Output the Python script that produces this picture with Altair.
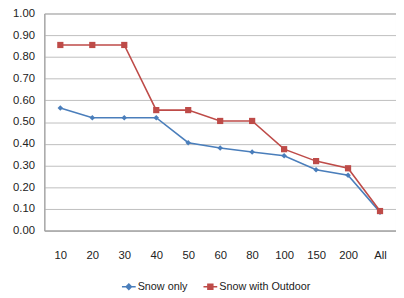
import altair as alt
import pandas as pd

categories = ["10", "20", "30", "40", "50", "60", "80", "100", "150", "200", "All"]
snow_only = [0.565, 0.52, 0.52, 0.52, 0.405, 0.38, 0.362, 0.345, 0.28, 0.255, 0.085]
snow_outdoor = [0.855, 0.855, 0.855, 0.555, 0.555, 0.505, 0.505, 0.375, 0.32, 0.287, 0.09]
series = ["Snow only", "Snow with Outdoor"]
y_ticks = [0.0, 0.1, 0.2, 0.3, 0.4, 0.5, 0.6, 0.7, 0.8, 0.9, 1.0]

rows = []
for c, a, b in zip(categories, snow_only, snow_outdoor):
    rows.append({"cat": c, "value": a, "series": series[0]})
    rows.append({"cat": c, "value": b, "series": series[1]})
df = pd.DataFrame(rows)

FONT = "Liberation Sans Narrow, Arial Narrow, Liberation Sans, sans-serif"
colors = ["#4A7EBB", "#BE4B48"]

diamond_line = "M-1,0L1,0M0,-0.38L0.38,0L0,0.38L-0.38,0Z"
square_line = "M-1,0L1,0M-0.36,-0.36L0.36,-0.36L0.36,0.36L-0.36,0.36Z"

x = alt.X("cat:N", sort=categories, title=None,
          scale=alt.Scale(type="point", padding=0.5),
          axis=alt.Axis(labelAngle=0, ticks=False, labelPadding=19, domainColor="#A0A0A0",
                        grid=False))
y = alt.Y("value:Q", title=None, scale=alt.Scale(domain=[0, 1], nice=False),
          axis=alt.Axis(values=y_ticks, format=".2f", ticks=False, labelPadding=10,
                        domainColor="#A0A0A0", gridColor="#BEBEBE"))
color_scale = alt.Scale(domain=series, range=colors)
legend = alt.Legend(orient="none", legendX=78, legendY=270, direction="horizontal",
                    symbolSize=196, symbolStrokeWidth=1.5, symbolOpacity=1, labelFontSize=11,
                    labelFont=FONT, labelColor="#222222", columnPadding=13, labelOffset=1, title=None)
color = alt.Color("series:N", scale=color_scale, title=None, legend=legend)

base = alt.Chart(df)
lines = base.mark_line(strokeWidth=1.6).encode(x=x, y=y, color=color)
legend_pts = base.mark_point(filled=True, strokeWidth=1.5).encode(
    x=x, y=y, opacity=alt.value(0), color=color,
    shape=alt.Shape("series:N", scale=alt.Scale(domain=series, range=[diamond_line, square_line]),
                    title=None, legend=legend))
pts_a = base.transform_filter(alt.datum.series == series[0]).mark_point(
    filled=True, opacity=1, shape="diamond", size=32).encode(x=x, y=y, color=color)
pts_b = base.transform_filter(alt.datum.series == series[1]).mark_point(
    filled=True, opacity=1, shape="square", size=40).encode(x=x, y=y, color=color)

chart = alt.layer(lines, legend_pts, pts_a, pts_b).properties(
    width=358, height=221,
    padding={"left": 37, "top": 3, "right": 0, "bottom": 64},
    autosize=alt.AutoSizeParams(type="none"),
).configure_view(stroke="#A0A0A0", strokeWidth=1).configure_axis(
    labelFont=FONT, labelFontSize=11.5, labelColor="#222222"
)

chart.save("out.html", embed_options={"renderer": "svg", "actions": False})
